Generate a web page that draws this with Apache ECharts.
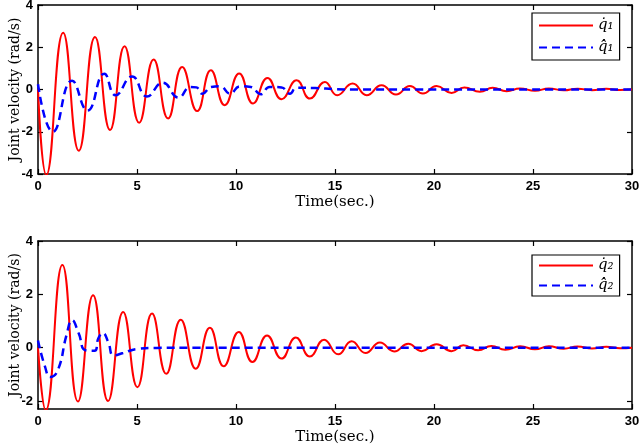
<!DOCTYPE html>
<html>
<head>
<meta charset="utf-8">
<script src="https://cdn.jsdelivr.net/npm/echarts@6/dist/echarts.min.js"></script>
<style>
  html, body { margin: 0; padding: 0; background: #fff; }
  #main { width: 640px; height: 446px; }
</style>
</head>
<body>
<div id="main"></div>
<script>
// values (time in s, velocity in rad/s)
var q1Time = [0, 0.42, 1.27, 2.06, 2.88, 3.64, 4.37, 5.11, 5.84, 6.57, 7.28, 8.04, 8.73, 9.43, 10.16, 10.86, 11.59, 12.30, 13.06, 13.73, 14.49, 15.11, 15.89, 16.60, 17.35, 18.08, 18.78, 19.44, 20.13, 20.89, 21.53, 22.32, 22.96, 23.67, 24.34, 25.10, 25.80, 26.55, 27.25, 27.98, 28.70, 29.40, 30];
var q1Vel  = [0, -4.05, 2.69, -2.90, 2.49, -1.92, 2.05, -1.57, 1.42, -1.37, 1.07, -1.02, 0.91, -0.74, 0.76, -0.66, 0.55, -0.46, 0.44, -0.43, 0.36, -0.27, 0.28, -0.27, 0.20, -0.24, 0.16, -0.19, 0.16, -0.16, 0.09, -0.11, 0.08, -0.08, 0.05, -0.06, 0.05, -0.04, 0.04, -0.03, 0.03, -0.02, 0];

var q1hTime = [0, 0.75, 1.72, 2.50, 3.35, 3.92, 4.75, 5.50, 6.30, 7.10, 7.70, 8.00, 8.30, 8.75, 9.20, 9.70, 10.20, 10.75, 11.25, 11.70, 12.30, 12.72, 13.05, 14.0, 15.0, 16.0, 30];
var q1hVel  = [0.25, -2.0, 0.42, -1.0, 0.75, -0.27, 0.62, -0.33, 0.32, -0.38, 0.12, 0.10, -0.20, 0.12, 0.15, -0.20, 0.15, 0.12, -0.22, 0.12, 0.10, -0.20, 0.08, 0.07, 0.02, 0, 0];

var q2Time = [0, 0.39, 1.23, 2.02, 2.78, 3.54, 4.30, 5.02, 5.76, 6.48, 7.21, 7.97, 8.68, 9.38, 10.14, 10.83, 11.57, 12.30, 13.02, 13.73, 14.45, 15.16, 15.84, 16.54, 17.27, 17.99, 18.70, 19.37, 20.13, 20.89, 21.48, 22.23, 22.90, 23.60, 24.35, 25.10, 25.80, 26.55, 27.25, 27.98, 28.70, 29.40, 30];
var q2Vel  = [0, -2.35, 3.10, -2.02, 1.97, -2.00, 1.34, -1.48, 1.28, -0.98, 1.05, -0.79, 0.75, -0.70, 0.59, -0.54, 0.46, -0.41, 0.38, -0.33, 0.30, -0.25, 0.24, -0.20, 0.19, -0.14, 0.15, -0.13, 0.13, -0.13, 0.09, -0.10, 0.06, -0.08, 0.05, -0.06, 0.05, -0.04, 0.04, -0.03, 0.03, -0.02, 0];

var q2hTime = [0, 0.35, 0.62, 1.00, 1.45, 1.72, 2.05, 2.40, 2.85, 3.05, 3.27, 3.55, 3.82, 4.30, 5.00, 6.00, 8.00, 30];
var q2hVel  = [0.27, -0.70, -1.10, -0.85, 0.50, 1.03, 0.55, -0.10, -0.12, 0.35, 0.55, 0.20, -0.29, -0.20, -0.05, -0.01, 0, 0];

var yTicks2 = [-2, 0, 2, 4];

function pairs(t, v) {
    var out = [];
    for (var i = 0; i < t.length; i++) out.push([t[i], v[i]]);
    return out;
}

var myChart = echarts.init(document.getElementById('main'));

var tickFont = { fontFamily: 'Liberation Sans', fontWeight: 'bold', fontSize: 13, color: '#000' };
var axLine = { show: true, onZero: false, lineStyle: { color: '#000', width: 1.5 } };
var serif = 'DejaVu Serif';

function xAx(grid, pos, labels) {
    return {
        type: 'value', gridIndex: grid, position: pos, min: 0, max: 30, interval: 5,
        axisLine: axLine, splitLine: { show: false },
        axisTick: { show: true, inside: true, length: 5, lineStyle: { color: '#000', width: 1.2 } },
        axisLabel: labels ? Object.assign({ show: true, margin: 6 }, tickFont) : { show: false },
        name: labels ? 'Time(sec.)' : '', nameLocation: 'middle', nameGap: 21, nameMoveOverlap: false,
        nameTextStyle: { fontFamily: serif, fontSize: 15, color: '#000' }
    };
}
function yAx(grid, pos, min, labels, custom) {
    var tick = { show: true, inside: true, length: 5, lineStyle: { color: '#000', width: 1.2 } };
    var lab = labels ? Object.assign({ show: true, margin: 5, showMinLabel: true }, tickFont) : { show: false };
    if (custom) { tick.customValues = custom; lab.customValues = custom; }
    return {
        type: 'value', gridIndex: grid, position: pos, min: min, max: 4, interval: 2,
        axisLine: axLine, axisTick: tick, splitLine: { show: false }, axisLabel: lab,
        name: labels ? 'Joint velocity (rad/s)' : '', nameLocation: 'middle', nameGap: 16, nameRotate: 90,
        nameMoveOverlap: false,
        nameTextStyle: { fontFamily: serif, fontSize: 14, color: '#000' }
    };
}

var redStyle = { color: '#ff0000', width: 2 };
var blueStyle = { color: '#0000ff', width: 2.5, type: [8, 5] };
var legendBase = {
    orient: 'vertical', left: 532, itemWidth: 54, itemHeight: 14,
    borderColor: '#000', borderWidth: 1.2, backgroundColor: '#fff',
    itemStyle: { opacity: 0 },
    textStyle: { fontFamily: serif, fontStyle: 'italic', fontSize: 15, color: '#000' }
};

var option = {
    animation: false,
    backgroundColor: '#fff',
    grid: [
        { left: 38, right: 8, top: 5, height: 169, outerBoundsMode: 'none', containLabel: false },
        { left: 38, right: 8, top: 241, height: 168, outerBoundsMode: 'none', containLabel: false }
    ],
    xAxis: [xAx(0, 'bottom', true), xAx(0, 'top', false), xAx(1, 'bottom', true), xAx(1, 'top', false)],
    yAxis: [yAx(0, 'left', -4, true), yAx(0, 'right', -4, false), yAx(1, 'left', -2.3, true, yTicks2), yAx(1, 'right', -2.3, false, yTicks2)],
    legend: [
        Object.assign({}, legendBase, { data: ['q̇₁', 'q̂̇₁'], top: 13, padding: [5, 6, 5, 6], itemGap: 7 }),
        Object.assign({}, legendBase, { data: ['q̇₂', 'q̂̇₂'], top: 255, padding: [3, 6, 3, 6], itemGap: 5 })
    ],
    series: [
        { name: 'q̇₁', type: 'line', xAxisIndex: 0, yAxisIndex: 0, data: pairs(q1Time, q1Vel), smooth: 0.5, symbol: 'none', lineStyle: redStyle, itemStyle: { color: '#ff0000' }, clip: true },
        { name: 'q̂̇₁', type: 'line', xAxisIndex: 0, yAxisIndex: 0, data: pairs(q1hTime, q1hVel), smooth: 0.5, symbol: 'none', lineStyle: blueStyle, itemStyle: { color: '#0000ff' }, clip: true },
        { name: 'q̇₂', type: 'line', xAxisIndex: 2, yAxisIndex: 2, data: pairs(q2Time, q2Vel), smooth: 0.5, symbol: 'none', lineStyle: redStyle, itemStyle: { color: '#ff0000' }, clip: true },
        { name: 'q̂̇₂', type: 'line', xAxisIndex: 2, yAxisIndex: 2, data: pairs(q2hTime, q2hVel), smooth: 0.5, symbol: 'none', lineStyle: blueStyle, itemStyle: { color: '#0000ff' }, clip: true }
    ]
};

myChart.setOption(option);
</script>
</body>
</html>
